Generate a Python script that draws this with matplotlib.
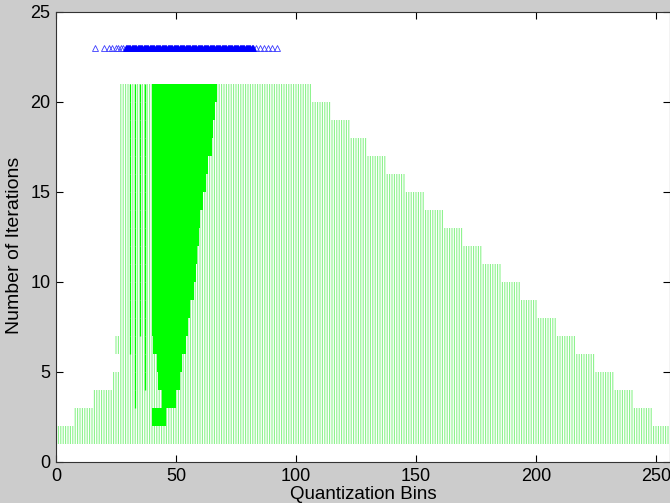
import numpy as np
import matplotlib
matplotlib.use("Agg")
import matplotlib.pyplot as plt

plt.rcParams['font.family'] = ['Liberation Sans', 'DejaVu Sans']

# ---- data ----
iterations = list(range(1, 21))
row_left = [0, 8, 16, 24, 27, 25, 27, 27, 27, 27, 27, 27, 27, 27, 27, 27, 27, 27, 27, 27]
row_right = [256, 248, 240, 232, 224, 216, 208, 200, 193, 185,
             177, 169, 161, 153, 145, 137, 129, 122, 114, 106]
dense_left = [np.nan, 40, 44, 42.5, 42, 40.5, 40, 40, 40, 40,
              40, 40, 40, 40, 40, 40, 40, 40, 40, 40]
dense_right = [np.nan, 46, 50, 51.7, 52.4, 54.2, 55, 56, 57.6, 58.2,
               58.6, 59.7, 60, 61.3, 62.5, 63.5, 64.9, 65.6, 66.2, 67]
accent_x = [31, 33, 35, 37]
accent_first_row = [6, 3, 7, 4]
marker_y = 23
marker_x_sparse = [16.3, 20, 22, 23.5, 25, 26, 27, 28,
                   83.5, 85, 86.5, 88.5, 90, 92]
marker_x_core = [29, 29.5, 30, 30.5, 31, 31.5, 32, 32.5, 33, 33.5, 34, 34.5, 35, 35.5,
                 36, 36.5, 37, 37.5, 38, 38.5, 39, 39.5, 40, 40.5, 41, 41.5, 42, 42.5,
                 43, 43.5, 44, 44.5, 45, 45.5, 46, 46.5, 47, 47.5, 48, 48.5, 49, 49.5,
                 50, 50.5, 51, 51.5, 52, 52.5, 53, 53.5, 54, 54.5, 55, 55.5, 56, 56.5,
                 57, 57.5, 58, 58.5, 59, 59.5, 60, 60.5, 61, 61.5, 62, 62.5, 63, 63.5,
                 64, 64.5, 65, 65.5, 66, 66.5, 67, 67.5, 68, 68.5, 69, 69.5, 70, 70.5,
                 71, 71.5, 72, 72.5, 73, 73.5, 74, 74.5, 75, 75.5, 76, 76.5, 77, 77.5,
                 78, 78.5, 79, 79.5, 80, 80.5, 81, 81.5, 82]
xticks = [0, 50, 100, 150, 200, 250]
yticks = [0, 5, 10, 15, 20, 25]

fig = plt.figure(figsize=(6.7, 5.03), dpi=100, facecolor='#cccccc')
ax = fig.add_axes([56 / 670, 41 / 503, 614.4 / 670, 450 / 503])
ax.set_facecolor('white')

light = '#86f286'
bright = '#00ff00'

for k, lo, hi in zip(iterations, row_left, row_right):
    xs = np.arange(np.ceil(lo), min(hi, 255.5) + 0.01, 1.0)
    lc = ax.vlines(xs, k, k + 1, colors=light, linewidth=0.75, zorder=2)
    lc.set_snap(False)

for k, lo, hi in zip(iterations, dense_left, dense_right):
    if np.isnan(lo):
        continue
    ax.barh(k, hi - lo, left=lo, height=1, align='edge', color=bright,
            linewidth=0, zorder=3)

for xa, first in zip(accent_x, accent_first_row):
    ks = [k for k in iterations if k >= first]
    ax.vlines([xa] * len(ks), ks, [k + 1 for k in ks], colors=bright,
              linewidth=0.9, zorder=3)

ax.plot(marker_x_sparse, [marker_y] * len(marker_x_sparse), linestyle='none',
        marker='^', markersize=4, markerfacecolor='none',
        markeredgecolor='#3b3bff', markeredgewidth=0.6, zorder=4)
ax.plot(marker_x_core, [marker_y] * len(marker_x_core), linestyle='none',
        marker='^', markersize=4, markerfacecolor='#0000ff',
        markeredgecolor='#0000ff', markeredgewidth=0.6, zorder=4)

ax.set_xlim(0, 256)
ax.set_ylim(0, 25)
ax.set_xticks(xticks)
ax.set_yticks(yticks)
ax.tick_params(direction='in', length=5, width=0.8, top=True, right=True,
               labelsize=13, pad=4, colors='black')
for s in ax.spines.values():
    s.set_linewidth(0.8)
    s.set_color('#333333')

ax.set_xlabel('Quantization Bins', fontsize=13.5, labelpad=1)
ax.set_ylabel('Number of Iterations', fontsize=14, labelpad=4)
ax.yaxis.set_label_coords(-0.054, 0.482)

fig.savefig('out.png', dpi=100, facecolor=fig.get_facecolor())
